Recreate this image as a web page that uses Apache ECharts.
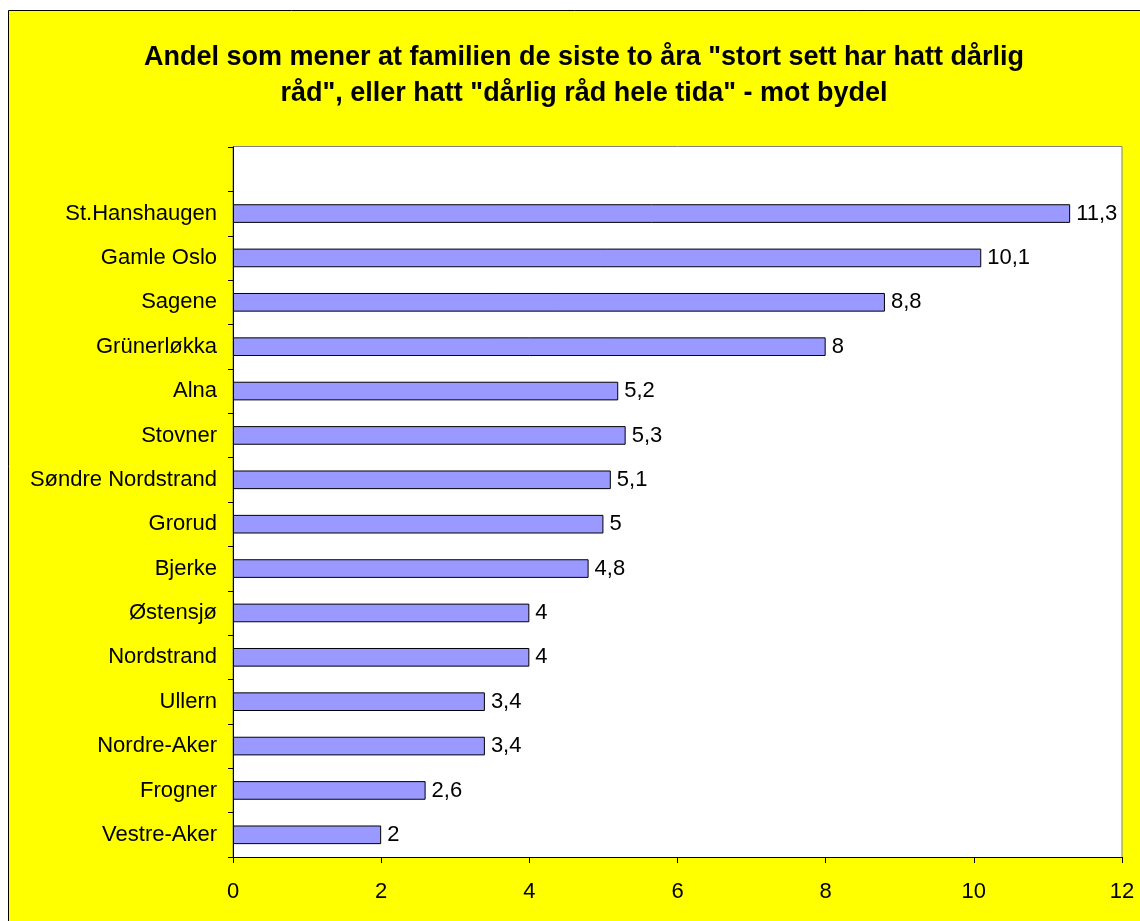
<!DOCTYPE html>
<html>
<head>
<meta charset="utf-8">
<script src="https://cdn.jsdelivr.net/npm/echarts@6/dist/echarts.min.js"></script>
<style>
html, body { margin: 0; padding: 0; background: #fff; }
#chart { width: 1140px; height: 921px; }
</style>
</head>
<body>
<div id="chart"></div>
<script>
// bydeler, top to bottom (first slot is left empty like the original)
const bydeler = ['', 'St.Hanshaugen', 'Gamle Oslo', 'Sagene', 'Grünerløkka', 'Alna', 'Stovner',
  'Søndre Nordstrand', 'Grorud', 'Bjerke', 'Østensjø', 'Nordstrand', 'Ullern',
  'Nordre-Aker', 'Frogner', 'Vestre-Aker']
const andel = ['-', 11.3, 10.1, 8.8, 8, 5.2, 5.3, 5.1, 5, 4.8, 4, 4, 3.4, 3.4, 2.6, 2]
const xTicks = [0, 2, 4, 6, 8, 10, 12]

const chart = echarts.init(document.getElementById('chart'))
const font = 'Liberation Sans, Arial, sans-serif'

const option = {
  backgroundColor: '#fff',
  animation: false,
  textStyle: { fontFamily: font },
  graphic: [
    {
      type: 'rect',
      z: -10,
      shape: { x: 8.5, y: 10.5, width: 1200, height: 1000 },
      style: { fill: '#ffff00', stroke: '#000', lineWidth: 1 }
    },
    {
      type: 'rect',
      z: -5,
      shape: { x: 233, y: 146.5, width: 889, height: 711 },
      style: { fill: '#fff', stroke: '#808080', lineWidth: 1 }
    }
  ],
  title: {
    text: 'Andel som mener at familien de siste to åra "stort sett har hatt dårlig\nråd", eller hatt "dårlig råd hele tida" - mot bydel',
    left: 579,
    top: 35,
    textAlign: 'center',
    textStyle: {
      fontFamily: font,
      fontWeight: 'bold',
      fontSize: 27,
      lineHeight: 36,
      color: '#000'
    }
  },
  grid: {
    left: 233,
    top: 147,
    right: 18,
    bottom: 64,
    containLabel: false
  },
  xAxis: {
    type: 'value',
    min: 0,
    max: 12,
    interval: 2,
    splitLine: { show: false },
    axisLine: { show: true, lineStyle: { color: '#000', width: 1 } },
    axisTick: { show: true, length: 6, lineStyle: { color: '#000' } },
    axisLabel: {
      color: '#000',
      fontSize: 22,
      margin: 24,
      formatter: v => xTicks.includes(v) ? String(v) : ''
    }
  },
  yAxis: {
    type: 'category',
    inverse: true,
    data: bydeler,
    axisLine: { show: true, lineStyle: { color: '#000', width: 1 } },
    axisTick: { show: true, length: 5, alignWithLabel: false, lineStyle: { color: '#000' } },
    axisLabel: { color: '#000', fontSize: 22, margin: 16 }
  },
  series: [
    {
      type: 'bar',
      data: andel,
      barCategoryGap: '58%',
      itemStyle: { color: '#9999ff', borderColor: '#000', borderWidth: 1 },
      label: {
        show: true,
        position: 'right',
        distance: 6,
        color: '#000',
        fontSize: 22,
        formatter: p => String(p.value).replace('.', ',')
      }
    }
  ]
}

chart.setOption(option)
</script>
</body>
</html>
